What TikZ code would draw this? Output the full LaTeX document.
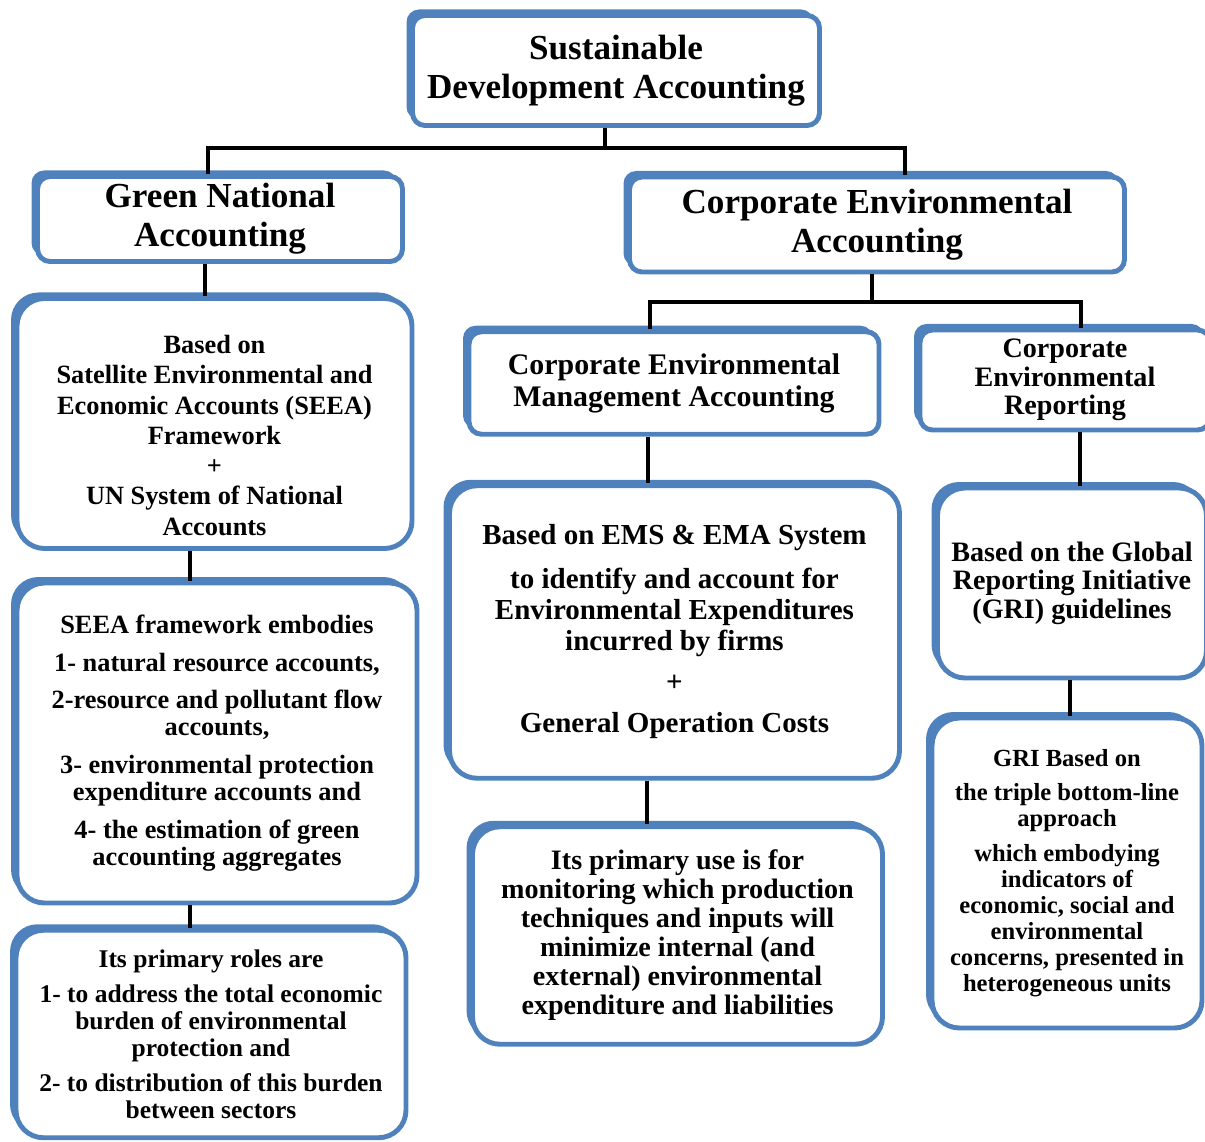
\documentclass[tikz,border=0pt]{standalone}
\usepackage{fontspec}
\setmainfont{Liberation Serif}
\usetikzlibrary{shadows}
\definecolor{boxblue}{RGB}{79,129,189}
\tikzset{
  box/.style={
    draw=boxblue, line width=2.8pt, fill=white, align=center, inner sep=2pt,
    drop shadow={shadow xshift=-0.12cm, shadow yshift=0.12cm, fill=boxblue, opacity=1}
  },
  headbox/.style={box, rounded corners=0.25cm},
  textbox/.style={box, rounded corners=0.55cm},
  link/.style={line width=2pt, black}
}

\begin{document}
\begin{tikzpicture}
    \useasboundingbox (0,0) rectangle (24.1,-22.84);

    % Heading boxes
    \node[headbox, minimum width=8.14cm, minimum height=2.2cm, font=\fontsize{20}{22}\selectfont\bfseries] (sda) at (12.32,-1.41) {Sustainable\\Development Accounting};
    \node[headbox, minimum width=7.3cm, minimum height=1.7cm, font=\fontsize{20}{22}\selectfont\bfseries] (gna) at (4.4,-4.38) {Green National\\Accounting};
    \node[headbox, minimum width=9.9cm, minimum height=1.9cm, font=\fontsize{20}{22}\selectfont\bfseries] (cea) at (17.54,-4.49) {Corporate Environmental\\Accounting};
    \node[headbox, minimum width=8.2cm, minimum height=2.05cm, font=\fontsize{17}{18.2}\selectfont\bfseries] (cema) at (13.48,-7.66) {Corporate Environmental\\Management Accounting};
    \node[headbox, minimum width=5.8cm, minimum height=2.0cm, font=\fontsize{16}{16.2}\selectfont\bfseries] (cer) at (21.3,-7.6) {Corporate\\Environmental\\Reporting};

    % Green national accounting column
    \node[textbox, minimum width=7.9cm, minimum height=5.0cm, font=\fontsize{15}{17.2}\selectfont\bfseries] (seeab) at (4.29,-8.47) {\rule{0pt}{24pt}Based on\\Satellite Environmental and\\Economic Accounts (SEEA)\\Framework\\+\\UN System of National\\Accounts};
    \node[textbox, minimum width=8.0cm, minimum height=6.4cm, font=\fontsize{15}{15.4}\selectfont\bfseries] (seeaf) at (4.34,-14.86) {SEEA framework embodies\\[6pt] 1- natural resource accounts,\\[6pt] 2-resource and pollutant flow\\accounts,\\[6pt] 3- environmental protection\\expenditure accounts and\\[6pt] 4- the estimation of green\\accounting aggregates};
    \node[textbox, minimum width=7.8cm, minimum height=4.15cm, font=\fontsize{14.5}{15.2}\selectfont\bfseries] (roles) at (4.22,-20.68) {Its primary roles are\\[5pt] 1- to address the total economic\\burden of environmental\\protection and\\[5pt] 2- to distribution of this burden\\between sectors};

    % Management accounting column
    \node[textbox, minimum width=9.0cm, minimum height=5.85cm, font=\fontsize{16.5}{17.6}\selectfont\bfseries] (ems) at (13.49,-12.64) {Based on EMS \& EMA System\\[7pt] to identify and account for\\Environmental Expenditures\\incurred by firms\\[6pt] +\\[6pt] General Operation Costs};
    \node[textbox, minimum width=8.2cm, minimum height=4.35cm, font=\fontsize{16}{16.5}\selectfont\bfseries] (use) at (13.55,-18.71) {Its primary use is for\\monitoring which production\\techniques and inputs will\\minimize internal (and\\external) environmental\\expenditure and liabilities};

    % Reporting column
    \node[textbox, minimum width=5.38cm, minimum height=3.8cm, font=\fontsize{16}{16.2}\selectfont\bfseries] (gri) at (21.44,-11.66) {Based on the Global\\Reporting Initiative\\(GRI) guidelines};
    \node[textbox, minimum width=5.4cm, minimum height=6.2cm, font=\fontsize{14}{14.8}\selectfont\bfseries] (grib) at (21.34,-17.46) {GRI Based on\\[5pt] the triple bottom-line\\approach\\[5pt] which embodying\\indicators of\\economic, social and\\environmental\\concerns, presented in\\heterogeneous units};

    % Tree connectors
    \coordinate (busL) at (4.16,-2.96);
    \coordinate (busR) at (18.1,-2.96);
    \coordinate (busC) at (13.0,-6.04);
    \coordinate (busD) at (21.62,-6.04);

    \draw[link] ([xshift=-0.22cm]sda.south) -- ([xshift=-0.22cm]sda.south |- busL);
    \draw[link] (busL |- gna.north) |- (busR) -- (busR |- cea.north);
    \draw[link] ([xshift=-0.1cm]cea.south) -- ([xshift=-0.1cm]cea.south |- busC);
    \draw[link] (busC |- cema.north) |- (busD) -- (busD |- cer.north);

    % Vertical links
    \draw[link] ([xshift=-0.3cm]gna.south) -- ([xshift=-0.3cm]gna.south |- seeab.north);
    \draw[link] ([xshift=-0.49cm]seeab.south) -- ([xshift=-0.49cm]seeab.south |- seeaf.north);
    \draw[link] ([xshift=-0.54cm]seeaf.south) -- ([xshift=-0.54cm]seeaf.south |- roles.north);
    \draw[link] ([xshift=-0.52cm]cema.south) -- ([xshift=-0.52cm]cema.south |- ems.north);
    \draw[link] ([xshift=-0.55cm]ems.south) -- ([xshift=-0.55cm]ems.south |- use.north);
    \draw[link] ([xshift=0.3cm]cer.south) -- ([xshift=0.3cm]cer.south |- gri.north);
    \draw[link] ([xshift=-0.04cm]gri.south) -- ([xshift=-0.04cm]gri.south |- grib.north);
\end{tikzpicture}
\end{document}
